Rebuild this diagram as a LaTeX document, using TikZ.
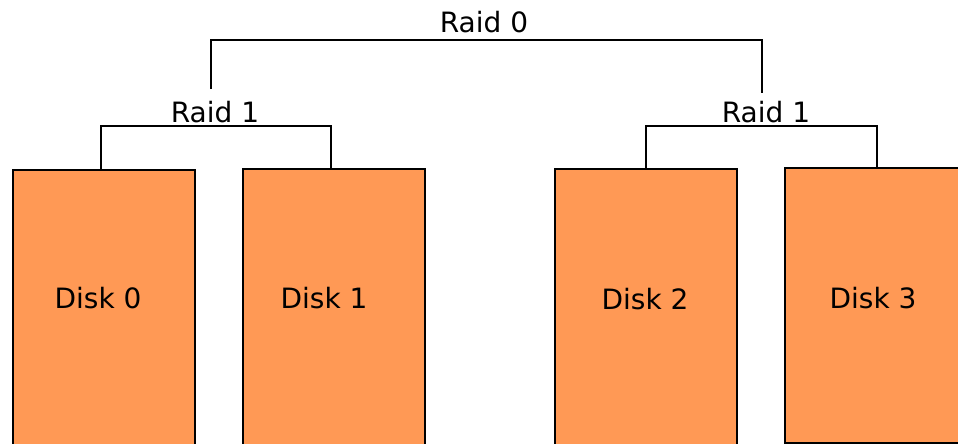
\documentclass[tikz,border=0pt]{standalone}
\usepackage{fontspec}
\setmainfont{DejaVu Sans}
\begin{document}
\begin{tikzpicture}[x=1pt,y=-1pt,
  disk/.style={draw=black, fill=diskorange, line width=1.5pt, anchor=north west,
    minimum width=#1, minimum height=320, inner sep=0pt},
  lbl/.style={font=\fontsize{28}{32}\selectfont, inner sep=0pt},
  bracket/.style={draw=black, line width=1.5pt}]
\definecolor{diskorange}{HTML}{FF9955}
\useasboundingbox (0,0) rectangle (958,444);
\clip (0,0) rectangle (958,444);

% disks
\node[disk=182] (d0) at (12,169) {};
\node[disk=182] (d1) at (242,168) {};
\node[disk=182] (d2) at (554,168) {};
\node[disk=200, minimum height=275] (d3) at (784,167) {};

\node[lbl] (t0) at (98,298) {Disk 0};
\node[lbl] (t1) at (324,298) {Disk 1};
\node[lbl] (t2) at (645,299) {Disk 2};
\node[lbl] (t3) at (873,298) {Disk 3};

% labels of the arrays
\node[lbl] (r1a) at (215,112) {Raid 1};
\node[lbl] (r1b) at (766,112) {Raid 1};
\node[lbl] (r0) at (484,22) {Raid 0};

% mirror brackets
\coordinate (a0) at (101,169);
\coordinate (a1) at (331,168);
\coordinate (b0) at (646,168);
\coordinate (b1) at (877,167);
\draw[bracket] (a0) |- (216,126) -| (a1);
\draw[bracket] (b0) |- (762,126) -| (b1);

% stripe bracket
\coordinate (c0) at (211,89);
\coordinate (c1) at (762,93);
\draw[bracket] (c0) |- (484,40) -| (c1);
\end{tikzpicture}
\end{document}
